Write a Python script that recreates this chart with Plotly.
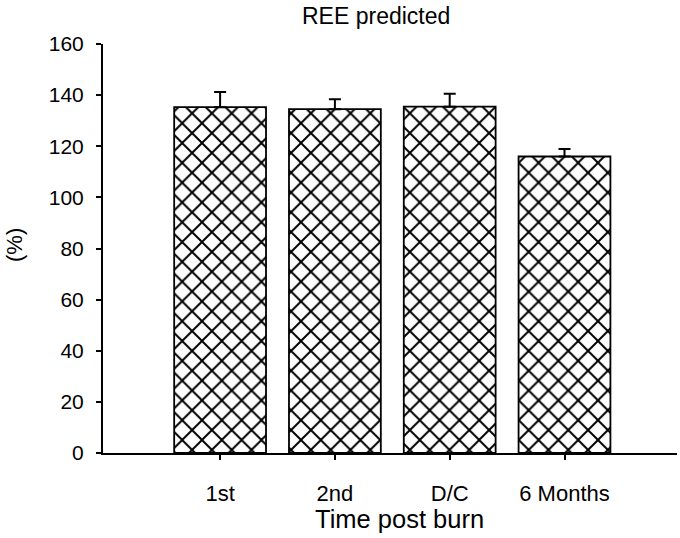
import plotly.graph_objects as go

categories = ["1st", "2nd", "D/C", "6 Months"]
ree_pct = [135.3, 134.5, 135.5, 116.0]
sem_upper = [5.9, 3.9, 5.0, 2.9]
y_ticks = [0, 20, 40, 60, 80, 100, 120, 140, 160]

FONT = "Liberation Sans, Arial, sans-serif"
W, H = 680, 538
L, R, T, B = 103, 3, 44, 85
PW, PH = W - L - R, H - T - B


def px_to_paper(x, y):
    """page pixel (from top-left) -> paper coordinates"""
    return (x - L) / PW, (H - B - y) / PH


fig = go.Figure()
fig.add_trace(go.Bar(
    x=categories,
    y=ree_pct,
    width=0.8,
    marker=dict(
        color="white",
        line=dict(color="black", width=1.8),
        pattern=dict(shape="x", fgcolor="#000000", fgopacity=1, bgcolor="white",
                     size=14, solidity=0.26),
    ),
    error_y=dict(
        type="data", symmetric=False, array=sem_upper, arrayminus=[0] * len(sem_upper),
        color="black", thickness=2, width=6,
    ),
    showlegend=False,
))

tx, ty = px_to_paper(376, 16)
xx, xy = px_to_paper(399.5, 519)
yx, yy = px_to_paper(14, 245)

fig.update_layout(
    width=W, height=H,
    margin=dict(l=L, r=R, t=T, b=B),
    paper_bgcolor="white", plot_bgcolor="white",
    font=dict(family=FONT, color="black", size=21),
    xaxis=dict(
        type="category", range=[-1.02, 3.98],
        showline=True, linecolor="black", linewidth=2,
        ticks="outside", ticklen=5, tickwidth=1.5, tickcolor="black",
        showgrid=False, zeroline=False,
        tickfont=dict(size=22), ticklabelstandoff=15,
    ),
    yaxis=dict(
        range=[0, 160], tickvals=y_ticks,
        showline=True, linecolor="black", linewidth=2,
        ticks="outside", ticklen=5, tickwidth=1.5, tickcolor="black",
        showgrid=False, zeroline=False,
        tickfont=dict(size=21), ticklabelstandoff=8,
    ),
    annotations=[
        dict(text="REE predicted", xref="paper", yref="paper", x=tx, y=ty,
             xanchor="center", yanchor="middle", showarrow=False, font=dict(size=23)),
        dict(text="Time post burn", xref="paper", yref="paper", x=xx, y=xy,
             xanchor="center", yanchor="middle", showarrow=False, font=dict(size=25.5)),
        dict(text="(%)", xref="paper", yref="paper", x=yx, y=yy,
             xanchor="center", yanchor="middle", showarrow=False, textangle=-90, font=dict(size=22)),
    ],
)
fig.write_html("out.html", config={"displayModeBar": False},
               post_script="document.body.style.margin='0';")
